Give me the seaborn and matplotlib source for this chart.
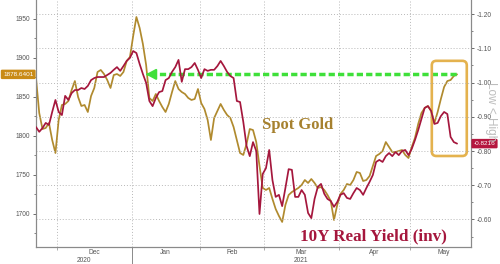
import numpy as np
import pandas as pd
import matplotlib
matplotlib.use("Agg")
import matplotlib.pyplot as plt
import seaborn as sns
from matplotlib.patches import FancyBboxPatch
from matplotlib.transforms import blended_transform_factory

# ---------------- data ----------------
start_date = "2020-11-20"
gold = [1874.0, 1829.1, 1808.6, 1809.9, 1816.3, 1794.5, 1777.8, 1820.1, 1839.4, 1840.7,
        1844.5, 1858.6, 1870.1, 1849.6, 1838.1, 1839.4, 1830.4, 1850.9, 1861.2, 1881.7,
        1884.3, 1879.1, 1871.4, 1861.2, 1877.8, 1879.1, 1876.6, 1881.7, 1895.8, 1900.9,
        1927.8, 1952.2, 1938.1, 1917.6, 1890.7, 1848.4, 1844.5, 1853.5, 1844.5, 1836.8,
        1830.4, 1840.7, 1856.0, 1870.1, 1859.9, 1856.0, 1853.5, 1848.4, 1845.8, 1847.1,
        1859.9, 1841.9, 1834.3, 1820.1, 1794.5, 1822.7, 1831.7, 1840.7, 1833.0, 1826.6,
        1822.7, 1811.2, 1794.5, 1777.8, 1775.3, 1789.4, 1808.6, 1807.3, 1791.9, 1761.2,
        1733.0, 1730.4, 1733.0, 1718.9, 1706.0, 1697.1, 1689.4, 1711.2, 1724.0, 1727.8,
        1730.4, 1733.0, 1736.8, 1743.2, 1739.4, 1744.5, 1739.4, 1733.0, 1734.2, 1730.4,
        1724.0, 1716.3, 1691.9, 1711.2, 1725.3, 1730.4, 1738.1, 1736.8, 1743.2, 1753.5,
        1752.2, 1741.9, 1743.2, 1748.4, 1761.2, 1774.0, 1776.6, 1780.4, 1791.9, 1785.5,
        1779.1, 1779.1, 1780.4, 1781.7, 1775.3, 1771.4, 1785.5, 1797.1, 1815.0, 1829.1,
        1835.5, 1838.1, 1831.7, 1816.3, 1830.4, 1847.1, 1862.5, 1870.1, 1871.4, 1876.6,
        1878.6401]
real_yield = [-0.870, -0.856, -0.867, -0.882, -0.876, -0.914, -0.949, -0.914, -0.905, -0.961,
              -0.949, -0.969, -0.978, -0.978, -0.984, -0.981, -0.990, -1.007, -1.013, -1.016,
              -1.016, -1.016, -1.022, -1.028, -1.037, -1.045, -1.034, -1.048, -1.063, -1.072,
              -1.092, -1.086, -1.054, -1.025, -0.999, -0.946, -0.931, -0.955, -0.972, -0.975,
              -1.007, -1.013, -1.031, -1.045, -1.066, -1.002, -1.039, -1.039, -1.045, -1.057,
              -1.037, -1.013, -1.039, -1.034, -1.037, -1.037, -1.048, -1.063, -1.048, -1.031,
              -1.019, -1.013, -0.946, -0.943, -0.885, -0.815, -0.785, -0.826, -0.800, -0.616,
              -0.733, -0.750, -0.803, -0.715, -0.666, -0.672, -0.639, -0.692, -0.747, -0.745,
              -0.666, -0.666, -0.686, -0.672, -0.619, -0.604, -0.660, -0.695, -0.704, -0.675,
              -0.660, -0.654, -0.637, -0.651, -0.672, -0.677, -0.663, -0.660, -0.677, -0.692,
              -0.686, -0.672, -0.692, -0.710, -0.730, -0.768, -0.774, -0.768, -0.785, -0.794,
              -0.785, -0.797, -0.788, -0.800, -0.803, -0.788, -0.806, -0.832, -0.861, -0.893,
              -0.926, -0.931, -0.917, -0.879, -0.882, -0.902, -0.914, -0.908, -0.841, -0.826,
              -0.8216]
gold_ticks = [1700, 1750, 1800, 1850, 1900, 1950]
yield_ticks = [-1.20, -1.10, -1.00, -0.90, -0.80, -0.70, -0.60]
month_starts = ["2020-12-01", "2021-01-01", "2021-02-01", "2021-03-01", "2021-04-01", "2021-05-01"]
month_labels = ["Dec", "Jan", "Feb", "Mar", "Apr", "May"]
year_labels = ["2020", "2021"]
gold_label = "Spot Gold"
yield_label = "10Y Real Yield (inv)"

GOLD = "#b08a2e"
RED = "#a5173d"
GREEN = "#3fe03a"
BOX = "#e4b24e"
TICKC = "#555555"
SMALL = ["Liberation Sans", "DejaVu Sans"]

dates = pd.bdate_range(start_date, periods=len(gold))
df = pd.DataFrame({"t": np.arange(len(gold)), "date": dates,
                   "gold": gold, "ry": real_yield})

sns.set_style("white")
plt.rcParams["font.family"] = SMALL

fig = plt.figure(figsize=(5.0, 2.64), dpi=100)
ax = fig.add_axes([36 / 500, 17 / 264, 435 / 500, 247 / 264])
ax2 = ax.twinx()

sns.lineplot(data=df, x="t", y="gold", ax=ax, color=GOLD, lw=1.25, legend=False, zorder=3)
sns.lineplot(data=df, x="t", y="ry", ax=ax2, color=RED, lw=1.25, legend=False, zorder=3)

xmax = len(gold) - 1 + 4.3
ax.set_xlim(0, xmax)
ax.set_ylim(1657.3, 1974.0)
ax2.set_ylim(-0.5197, -1.2409)

for a in (ax, ax2):
    a.set_xlabel("")
    a.set_ylabel("")
    for s in a.spines.values():
        s.set_color("#8a8a8a")
        s.set_linewidth(0.8)
    a.spines["top"].set_visible(False)

# y ticks
ax.set_yticks(gold_ticks)
ax.set_yticklabels([str(v) for v in gold_ticks])
ax.set_yticks(np.arange(1675, 1975, 50), minor=True)
ax.tick_params(axis="y", which="major", labelsize=4.8, colors=TICKC, length=2.5,
               width=0.6, direction="out", pad=1.5, left=True)
ax.tick_params(axis="y", which="minor", length=1.5, width=0.5, colors=TICKC, left=True)
ax2.set_yticks(yield_ticks)
ax2.set_yticklabels([f"{v:.2f}" for v in yield_ticks])
ax2.set_yticks(np.arange(-1.15, -0.54, 0.1), minor=True)
ax2.tick_params(axis="y", which="major", labelsize=4.8, colors=TICKC, length=2.5,
                width=0.6, direction="out", pad=1.5, right=True)
ax2.tick_params(axis="y", which="minor", length=1.5, width=0.5, colors=TICKC, right=True)

# horizontal grid from the right axis
ax2.grid(axis="y", which="major", color="#b8b8b8", ls=(0, (1, 2)), lw=0.7)
ax2.set_axisbelow(True)

# month boundaries
bounds = []
for m in month_starts:
    idx = int(np.searchsorted(df["date"].values, np.datetime64(m)))
    bounds.append(idx - 0.5)
ax.set_xticks(bounds)
ax.set_xticklabels([])
ax.tick_params(axis="x", length=2, width=0.5, colors="#8a8a8a", direction="out", bottom=True)
ax2.tick_params(axis="x", bottom=False, top=False)
for b in bounds:
    ax.axvline(b, color="#b8b8b8", ls=(0, (1, 2)), lw=0.7, zorder=0)

tb = blended_transform_factory(ax.transData, ax.transAxes)
ends = bounds[1:] + [xmax]
for lab, b0, b1, ms in zip(month_labels, bounds, ends, month_starts):
    n = len(pd.bdate_range(ms, pd.Timestamp(ms) + pd.offsets.MonthEnd(0)))
    ax.text(b0 + n / 2.0, -0.022, lab, transform=tb, ha="center", va="center",
            fontsize=4.8, color=TICKC, clip_on=False)
year_pos = [(0 + bounds[1]) / 2.0, (bounds[1] + xmax) / 2.0]
for lab, xp in zip(year_labels, year_pos):
    ax.text(xp, -0.055, lab, transform=tb, ha="center", va="center",
            fontsize=4.8, color=TICKC, clip_on=False)
ax.plot([bounds[1], bounds[1]], [0, -0.075], transform=tb, color="#8a8a8a",
        lw=0.7, clip_on=False)

# green dashed arrow at last gold level
g_last = gold[-1]
t_last = df["t"].iloc[-1]
ax.plot([35.2, t_last], [g_last, g_last], color=GREEN, lw=2.5,
        ls=(0, (1.8, 0.9)), zorder=4, solid_capstyle="butt")
ax.annotate("", xy=(33.0, g_last), xytext=(35.6, g_last),
            arrowprops=dict(arrowstyle="-|>,head_length=0.6,head_width=0.32",
                            color=GREEN, lw=1.5), zorder=4)

# highlight box
ax.add_patch(FancyBboxPatch((122.2, 1774.0), 10.8, 122.0,
                            boxstyle="round,pad=0,rounding_size=1.4",
                            mutation_aspect=4.15, fill=False, ec=BOX, lw=1.9,
                            zorder=5, clip_on=False))

# series labels
ax.text(69.8, 1814, gold_label, ha="left", va="center", fontsize=12,
        fontweight="bold", family=["Liberation Serif", "DejaVu Serif"], color="#a6812f")
ax2.text(81.5, -0.552, yield_label, ha="left", va="center", fontsize=12.3,
         fontweight="bold", family=["Liberation Serif", "DejaVu Serif"], color=RED)

# last value boxes
tl = blended_transform_factory(ax.transAxes, ax.transData)
ax.text(-0.006, g_last, "1878.6401", transform=tl, ha="right", va="center",
        fontsize=4.6, color="white", zorder=10, clip_on=False,
        bbox=dict(boxstyle="round,pad=0.35,rounding_size=0.2", fc="#c98b16", ec="none"))
tr = blended_transform_factory(ax2.transAxes, ax2.transData)
ax2.text(1.006, real_yield[-1], "-0.8216", transform=tr, ha="left", va="center",
         fontsize=4.6, color="white", zorder=10, clip_on=False,
         bbox=dict(boxstyle="round,pad=0.35,rounding_size=0.2", fc="#b5173f", ec="none"))

fig.text(491 / 500, 1 - 112 / 264, "Low < High", rotation=270, ha="center",
         va="center", fontsize=8.5, color="#bdbdbd", zorder=0)

fig.savefig("out.png", dpi=100, facecolor="white")
